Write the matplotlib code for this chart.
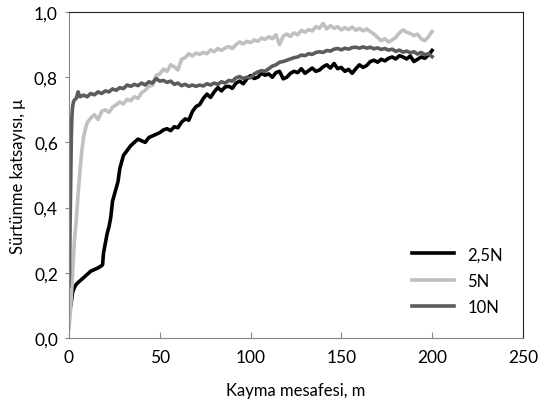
import matplotlib
matplotlib.use("Agg")
import matplotlib.pyplot as plt
from matplotlib.ticker import FuncFormatter

plt.rcParams['font.family'] = ['Lato', 'DejaVu Sans']

# 2,5N  (distance in m, friction coefficient)
x_25 = [1, 1.5, 2, 3, 4, 6, 8, 10, 12, 14, 16, 18, 18.5, 19, 20, 21, 22, 23, 24, 25,
        26, 27, 28, 29, 30, 32, 34, 36, 38, 40, 42, 44, 46, 48, 50] + list(range(52, 201, 2))
y_25 = [0.10, 0.12, 0.14, 0.155, 0.165, 0.175, 0.185, 0.195, 0.205, 0.21, 0.215, 0.222,
        0.225, 0.26, 0.29, 0.32, 0.34, 0.37, 0.42, 0.44, 0.46, 0.48, 0.52, 0.54, 0.56,
        0.575, 0.59, 0.60, 0.61, 0.605, 0.60, 0.615, 0.62, 0.625, 0.63,
        0.638, 0.642, 0.636, 0.648, 0.645, 0.662, 0.672, 0.668, 0.695, 0.71, 0.716, 0.735,
        0.748, 0.738, 0.755, 0.768, 0.758, 0.77, 0.772, 0.766, 0.782, 0.788, 0.78, 0.795,
        0.805, 0.796, 0.80, 0.812, 0.806, 0.81, 0.80, 0.814, 0.818, 0.795, 0.80, 0.812,
        0.818, 0.814, 0.826, 0.812, 0.82, 0.828, 0.818, 0.822, 0.832, 0.838, 0.828, 0.842,
        0.826, 0.83, 0.818, 0.824, 0.812, 0.826, 0.838, 0.83, 0.836, 0.848, 0.852, 0.846,
        0.855, 0.85, 0.858, 0.862, 0.856, 0.866, 0.862, 0.856, 0.865, 0.848, 0.855, 0.862,
        0.858, 0.868, 0.882]

# 5N
x_5 = [0, 0.5, 1, 1.5, 2, 2.5, 3, 4, 5, 6, 7, 8, 9, 10, 12, 14, 16, 18] + list(range(20, 201, 2))
y_5 = [0.03, 0.06, 0.10, 0.15, 0.20, 0.25, 0.30, 0.36, 0.44, 0.51, 0.57, 0.615, 0.64,
       0.66, 0.675, 0.685, 0.67, 0.695,
       0.70, 0.692, 0.708, 0.715, 0.724, 0.718, 0.732, 0.728, 0.74, 0.735, 0.752, 0.76,
       0.772, 0.775, 0.805, 0.81, 0.825, 0.818, 0.838, 0.832, 0.822, 0.855, 0.86, 0.872,
       0.865, 0.874, 0.87, 0.876, 0.872, 0.884, 0.878, 0.888, 0.882, 0.89, 0.894, 0.888,
       0.90, 0.908, 0.902, 0.91, 0.906, 0.914, 0.91, 0.92, 0.916, 0.924, 0.918, 0.93,
       0.90, 0.926, 0.932, 0.925, 0.936, 0.93, 0.944, 0.938, 0.946, 0.942, 0.955, 0.95,
       0.965, 0.948, 0.958, 0.95, 0.955, 0.945, 0.952, 0.946, 0.954, 0.944, 0.95, 0.942,
       0.948, 0.94, 0.932, 0.922, 0.912, 0.918, 0.908, 0.914, 0.922, 0.936, 0.945, 0.938,
       0.934, 0.928, 0.932, 0.918, 0.912, 0.924, 0.94]

# 10N
x_10 = [0, 0.3, 0.6, 1, 1.3, 1.6, 2, 2.5, 3, 4, 5, 6] + list(range(8, 201, 2))
y_10 = [0.16, 0.20, 0.35, 0.50, 0.62, 0.68, 0.71, 0.725, 0.73, 0.735, 0.755, 0.74,
        0.745, 0.74, 0.75, 0.746, 0.755, 0.75, 0.758, 0.755, 0.764, 0.76, 0.768, 0.765,
        0.776, 0.772, 0.778, 0.774, 0.782, 0.776, 0.786, 0.782, 0.796, 0.788, 0.79, 0.784,
        0.788, 0.778, 0.782, 0.774, 0.778, 0.772, 0.776, 0.772, 0.776, 0.773, 0.78, 0.776,
        0.782, 0.778, 0.786, 0.782, 0.79, 0.788, 0.798, 0.802, 0.796, 0.80, 0.798, 0.81,
        0.816, 0.82, 0.818, 0.826, 0.834, 0.838, 0.846, 0.848, 0.852, 0.856, 0.86, 0.862,
        0.868, 0.866, 0.872, 0.87, 0.876, 0.878, 0.876, 0.882, 0.88, 0.886, 0.888, 0.884,
        0.889, 0.886, 0.891, 0.892, 0.889, 0.893, 0.889, 0.892, 0.887, 0.89, 0.885, 0.888,
        0.883, 0.886, 0.879, 0.883, 0.877, 0.88, 0.875, 0.878, 0.871, 0.876, 0.869, 0.872,
        0.863]

fig = plt.figure(figsize=(5.39, 4.06), dpi=100)
ax = fig.add_axes([0.128, 0.165, 0.842, 0.803])

ax.plot(x_25, y_25, color='#000000', lw=2.6, label='2,5N')
ax.plot(x_5, y_5, color='#c0c0c0', lw=2.6, label='5N')
ax.plot(x_10, y_10, color='#5c5c5c', lw=2.6, label='10N')

ax.set_xlim(0, 250)
ax.set_ylim(0, 1.0)
ax.set_xticks([0, 50, 100, 150, 200, 250])
ax.set_yticks([0, 0.2, 0.4, 0.6, 0.8, 1.0])
ax.yaxis.set_major_formatter(FuncFormatter(lambda v, p: f"{v:.1f}".replace('.', ',')))
ax.tick_params(axis='x', direction='in', length=4, color='#868686', labelsize=12.5, pad=8)
ax.tick_params(axis='y', direction='out', length=3, color='#868686', labelsize=12.5, pad=5)
for s in ['left', 'bottom']:
    ax.spines[s].set_color('#868686')
for s in ['top', 'right']:
    ax.spines[s].set_color('#222222')

ax.set_xlabel('Kayma mesafesi, m', fontsize=12, labelpad=12)
ax.set_ylabel('Sürtünme katsayısı, μ', fontsize=12, labelpad=6)

ax.legend(loc='lower right', bbox_to_anchor=(0.989, 0.025), frameon=False, fontsize=12,
          handlelength=2.5, labelspacing=0.62)

fig.savefig('out.png', dpi=100)
